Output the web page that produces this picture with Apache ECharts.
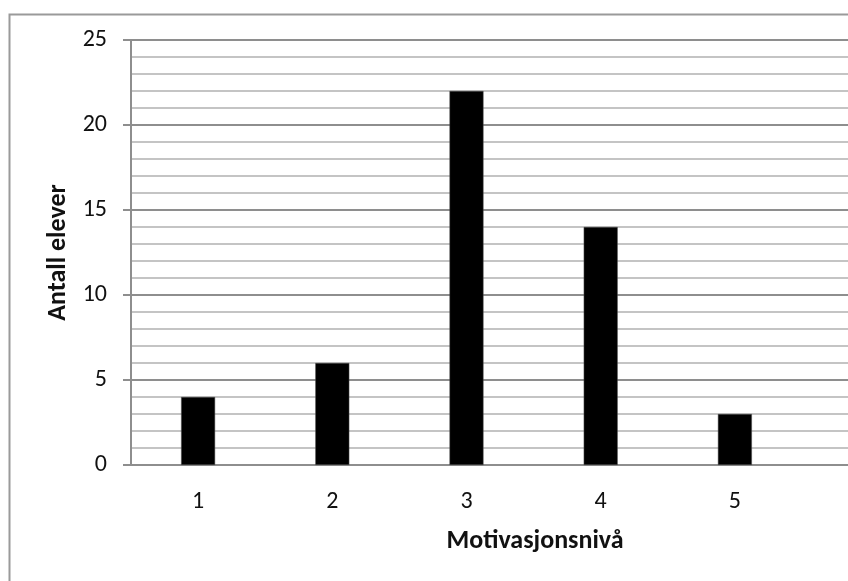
<!DOCTYPE html>
<html>
<head>
<meta charset="utf-8">
<script src="https://cdn.jsdelivr.net/npm/echarts@6/dist/echarts.min.js"></script>
<style>
  html, body { margin: 0; padding: 0; background: #fff; }
  #chart { width: 848px; height: 581px; }
</style>
</head>
<body>
<div id="chart"></div>
<script>
// Motivation level (1-5) and number of pupils at each level
const levels = ['1', '2', '3', '4', '5'];
const pupilCounts = [4, 6, 22, 14, 3];
const yTicks = { min: 0, max: 25, step: 5 };

const FONT = 'Carlito, Lato, "Liberation Sans", sans-serif';
const MAJOR = '#8e8e8e';
const MINOR = '#c4c4c4';

const chart = echarts.init(document.getElementById('chart'), null, { renderer: 'canvas' });

chart.setOption({
  animation: false,
  backgroundColor: '#ffffff',
  graphic: [{
    type: 'rect',
    left: 7, top: 12,
    shape: { width: 1000, height: 1000 },
    style: { fill: 'none', stroke: '#9a9a9a', lineWidth: 2 },
    silent: true
  }],
  grid: [
    // full-width plot frame carrying the gridlines and the value axis
    { left: 131, top: 40, right: 0, height: 425, containLabel: false },
    // category band holding the bars
    { left: 131, top: 40, width: 671, height: 425, containLabel: false }
  ],
  xAxis: [
    {
      gridIndex: 0, type: 'value', min: 0, max: 1,
      name: 'Motivasjonsnivå', nameLocation: 'middle', nameGap: 63,
      nameTextStyle: { fontFamily: FONT, fontSize: 26, fontWeight: 'bold', color: '#111', padding: [0, 0, 0, 91] },
      axisLine: { show: true, lineStyle: { color: MAJOR, width: 2 } },
      axisTick: { show: false }, axisLabel: { show: false }, splitLine: { show: false }
    },
    {
      gridIndex: 1, type: 'category', data: levels,
      axisLine: { show: false }, axisTick: { show: false },
      axisLabel: { margin: 25, fontFamily: FONT, fontSize: 24, color: '#111' }
    }
  ],
  yAxis: [
    {
      gridIndex: 0, type: 'value', min: yTicks.min, max: yTicks.max, interval: yTicks.step,
      name: 'Antall elever', nameLocation: 'middle', nameRotate: 90, nameGap: 60,
      nameTextStyle: { fontFamily: FONT, fontSize: 26, fontWeight: 'bold', color: '#111' },
      axisLine: { show: true, lineStyle: { color: MAJOR, width: 2 } },
      axisTick: { show: true, inside: false, length: 8, lineStyle: { color: MAJOR, width: 2 } },
      axisLabel: { margin: 24, fontFamily: FONT, fontSize: 24, color: '#111' },
      splitLine: { show: true, lineStyle: { color: MAJOR, width: 2 } },
      minorTick: { show: true, splitNumber: 5, length: 0, lineStyle: { color: 'transparent' } },
      minorSplitLine: { show: true, lineStyle: { color: MINOR, width: 2 } }
    },
    {
      gridIndex: 1, type: 'value', min: yTicks.min, max: yTicks.max, show: false,
      splitLine: { show: false }
    }
  ],
  series: [{
    type: 'bar',
    xAxisIndex: 1, yAxisIndex: 1,
    data: pupilCounts,
    barWidth: 34,
    itemStyle: { color: '#000', borderColor: '#555', borderWidth: 0.5 }
  }]
});
</script>
</body>
</html>
